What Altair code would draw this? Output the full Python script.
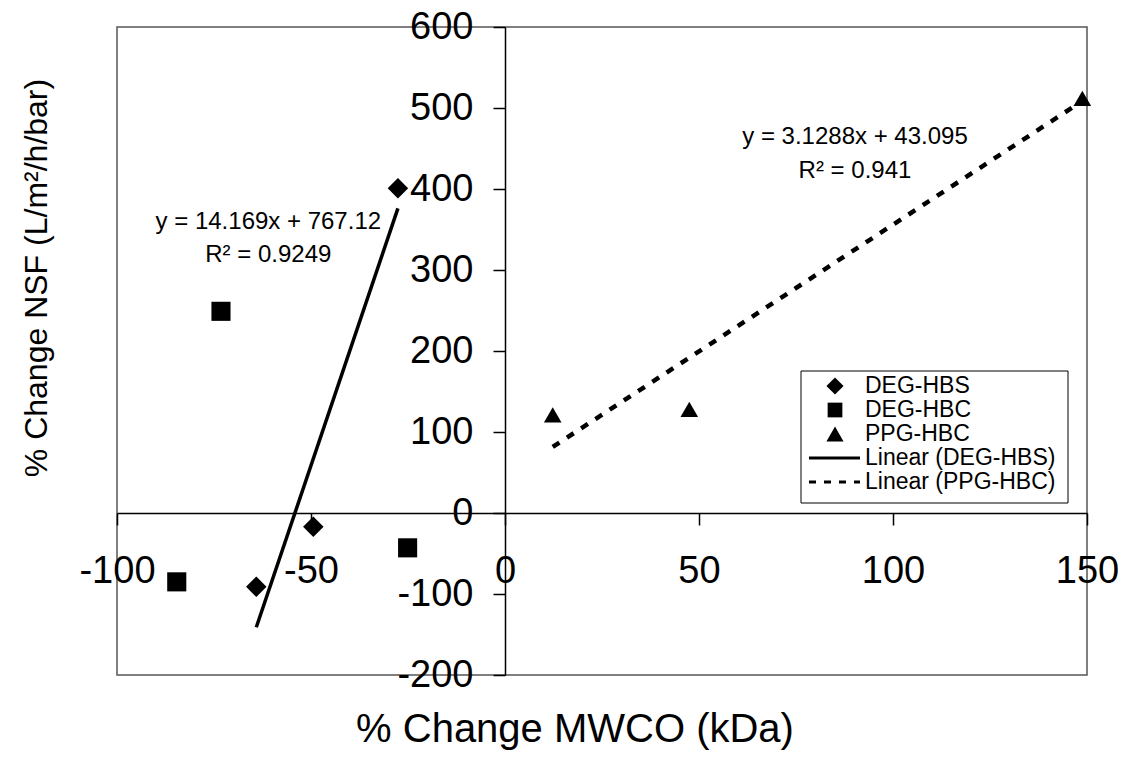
import altair as alt
import pandas as pd

# % change in MWCO (x) and % change in NSF (y) for each membrane series
deg_hbs_x = [-64.1, -49.4, -27.6]
deg_hbs_y = [-91, -17, 401]
deg_hbc_x = [-84.6, -73.2, -25.1]
deg_hbc_y = [-85, 249, -43]
ppg_hbc_x = [12.3, 47.5, 148.8]
ppg_hbc_y = [121, 128, 512]

# Reported linear fits: slope, intercept, R^2
deg_hbs_fit = (14.169, 767.12, 0.9249)
ppg_hbc_fit = (3.1288, 43.095, 0.941)

x_ticks = [-100, -50, 0, 50, 100, 150]
y_ticks = [-200, -100, 0, 100, 200, 300, 400, 500, 600]
series_names = ["DEG-HBS", "DEG-HBC", "PPG-HBC"]
trend_names = ["Linear (DEG-HBS)", "Linear (PPG-HBC)"]

# Equation label anchors in data units (x, y of first line, y of second line)
deg_eq_anchor = (-61.0, 359, 318)
ppg_eq_anchor = (90.2, 464, 422)

X_DOMAIN = [-100, 150]
Y_DOMAIN = [-200, 600]
W, H = 970, 648
FONT = "Liberation Sans"

# axes cross at the origin
x_axis_offset = -(H * (0 - Y_DOMAIN[0]) / (Y_DOMAIN[1] - Y_DOMAIN[0]))
y_axis_offset = -(W * (0 - X_DOMAIN[0]) / (X_DOMAIN[1] - X_DOMAIN[0]))

xs = alt.Scale(domain=X_DOMAIN, nice=False, zero=False)
ys = alt.Scale(domain=Y_DOMAIN, nice=False, zero=False)

points = pd.DataFrame({
    "series": ["DEG-HBS"] * 3 + ["DEG-HBC"] * 3 + ["PPG-HBC"] * 3,
    "x": deg_hbs_x + deg_hbc_x + ppg_hbc_x,
    "y": deg_hbs_y + deg_hbc_y + ppg_hbc_y,
})

common_axis = dict(
    title=None, grid=False, labelFontSize=38, labelFont=FONT, labelColor="black",
    tickSize=12, tickColor="black", tickWidth=1.5, domainColor="black",
    domainWidth=1.5, labelOverlap=False, labelFlush=False,
    labelExpr="'' + datum.value",
)

x_enc = alt.X("x:Q", scale=xs,
              axis=alt.Axis(values=x_ticks, offset=x_axis_offset, labelPadding=27, **common_axis))
y_enc = alt.Y("y:Q", scale=ys,
              axis=alt.Axis(values=y_ticks, offset=y_axis_offset, labelPadding=20, **common_axis))

shapes = ["diamond", "square", "triangle-up"]
sizes = [420, 310, 420]

scatter = alt.Chart(points).mark_point(filled=True, opacity=1, color="black").encode(
    x=x_enc,
    y=y_enc,
    shape=alt.Shape("series:N", scale=alt.Scale(domain=series_names, range=shapes), legend=None),
    size=alt.Size("series:N", scale=alt.Scale(domain=series_names, range=sizes), legend=None),
)


def trend_frame(xvals, fit):
    slope, intercept, _ = fit
    lo, hi = min(xvals), max(xvals)
    return pd.DataFrame({"x": [lo, hi], "y": [slope * lo + intercept, slope * hi + intercept]})


deg_trend = alt.Chart(trend_frame(deg_hbs_x, deg_hbs_fit)).mark_line(
    color="black", strokeWidth=3.5
).encode(x=alt.X("x:Q", scale=xs), y=alt.Y("y:Q", scale=ys))

ppg_trend = alt.Chart(trend_frame(ppg_hbc_x, ppg_hbc_fit)).mark_line(
    color="black", strokeWidth=4.5, strokeDash=[8, 9]
).encode(x=alt.X("x:Q", scale=xs), y=alt.Y("y:Q", scale=ys))


def eq_rows(anchor, fit):
    slope, intercept, r2 = fit
    return [
        {"x": anchor[0], "y": anchor[1], "t": f"y = {slope}x + {intercept}"},
        {"x": anchor[0], "y": anchor[2], "t": f"R\u00b2 = {r2}"},
    ]


equations = alt.Chart(pd.DataFrame(eq_rows(deg_eq_anchor, deg_hbs_fit) + eq_rows(ppg_eq_anchor, ppg_hbc_fit))).mark_text(
    font=FONT, fontSize=24, color="black", align="center", baseline="middle"
).encode(x=alt.X("x:Q", scale=xs), y=alt.Y("y:Q", scale=ys), text="t:N")

one = alt.Data(values=[{}])

# Legend box, drawn in pixel space of the plot area
LX0, LX1, LY0, LY1 = 684, 951, 344, 476
ROW0, ROW_STEP = 359, 24
SYM_X, LINE_X0, LINE_X1, TEXT_X = 718, 692, 743, 748

legend_layers = [
    alt.Chart(one).mark_rect(fill="white", stroke="black", strokeWidth=1).encode(
        x=alt.value(LX0), x2=alt.value(LX1), y=alt.value(LY0), y2=alt.value(LY1)
    )
]
for i, (name, shp, sz) in enumerate(zip(series_names, shapes, sizes)):
    ry = ROW0 + i * ROW_STEP
    legend_layers.append(
        alt.Chart(one).mark_point(filled=True, opacity=1, color="black", shape=shp, size=sz * 0.7).encode(
            x=alt.value(SYM_X), y=alt.value(ry)
        )
    )
for j, name in enumerate(trend_names):
    ry = ROW0 + (3 + j) * ROW_STEP
    style = dict(strokeWidth=3) if j == 0 else dict(strokeWidth=3, strokeDash=[7, 8])
    legend_layers.append(
        alt.Chart(one).mark_rule(color="black", **style).encode(
            x=alt.value(LINE_X0), x2=alt.value(LINE_X1), y=alt.value(ry)
        )
    )
for i, name in enumerate(series_names + trend_names):
    ry = ROW0 + i * ROW_STEP
    legend_layers.append(
        alt.Chart(one).mark_text(font=FONT, fontSize=23, color="black", align="left", baseline="middle").encode(
            x=alt.value(TEXT_X), y=alt.value(ry), text=alt.value(name)
        )
    )

# Axis titles
x_title = alt.Chart(one).mark_text(font=FONT, fontSize=40, color="black", align="center", baseline="middle").encode(
    x=alt.value(458), y=alt.value(703), text=alt.value("% Change MWCO (kDa)")
)
y_title = alt.Chart(one).mark_text(font=FONT, fontSize=32, color="black", align="center", baseline="middle", angle=270).encode(
    x=alt.value(-80), y=alt.value(251), text=alt.value("% Change NSF (L/m\u00b2/h/bar)")
)

chart = alt.layer(
    deg_trend, ppg_trend, scatter, equations, *legend_layers, x_title, y_title
).properties(
    width=W, height=H,
    autosize=alt.AutoSizeParams(type="none"),
    padding={"left": 117, "top": 27, "right": 55, "bottom": 88},
    background="white",
).configure(
    font=FONT
).configure_view(
    stroke="#555555", strokeWidth=1.5
)

chart.save("out.html", embed_options={"renderer": "svg", "actions": False})
